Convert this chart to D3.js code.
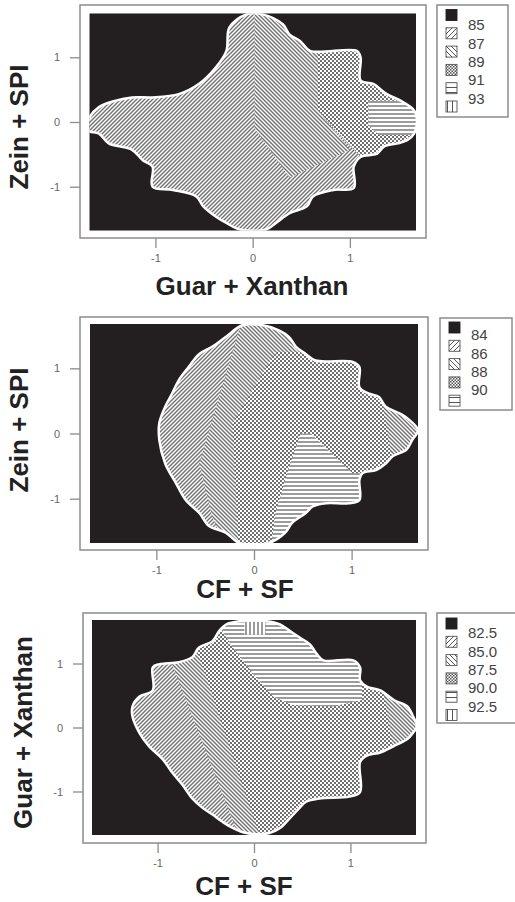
<!DOCTYPE html>
<html>
<head>
<meta charset="utf-8">
<script src="https://cdn.jsdelivr.net/npm/d3@7"></script>
<style>
  body { margin: 0; background: #fff; }
  svg { display: block; }
  text { font-family: Arial, "Liberation Sans", sans-serif; }
</style>
</head>
<body>
<svg id="chart" width="515" height="902"></svg>
<script>
// shared axis setup
const domain = [-1.68, 1.68];
const tickValues = [-1, 0, 1];

// panel 1 : Guar + Xanthan vs Zein + SPI
const p1Levels = ["85", "87", "89", "91", "93"];
const p1Outline = [[-0.24,1.46],[-0.07,1.66],[0.11,1.66],[0.31,1.51],[0.38,1.35],[0.49,1.25],[0.59,1.10],[1.07,1.10],[1.11,1.00],[1.11,0.64],[1.24,0.59],[1.38,0.43],[1.52,0.33],[1.66,0.18],[1.69,0.03],[1.66,-0.18],[1.59,-0.28],[1.49,-0.33],[1.35,-0.38],[1.28,-0.49],[1.11,-0.54],[1.04,-0.69],[1.04,-1.02],[0.83,-1.05],[0.62,-1.15],[0.56,-1.30],[0.38,-1.41],[0.24,-1.56],[0.14,-1.66],[-0.13,-1.66],[-0.27,-1.56],[-0.38,-1.46],[-0.51,-1.30],[-0.58,-1.15],[-0.82,-1.05],[-1.03,-1.00],[-1.03,-0.69],[-1.13,-0.59],[-1.24,-0.43],[-1.48,-0.33],[-1.58,-0.18],[-1.69,-0.13],[-1.69,0.03],[-1.58,0.23],[-1.41,0.33],[-1.24,0.38],[-1.03,0.38],[-0.76,0.43],[-0.55,0.59],[-0.38,0.84],[-0.27,1.10]];
const p1Zone89 = [[0.02,1.9],[0.67,1.9],[0.67,0.18],[1.00,-0.43],[0.38,-0.86],[0.02,-0.10]];
const p1Zone91 = [[0.67,1.8],[1.9,1.8],[1.9,-0.6],[1.13,-0.56],[0.95,-0.28],[0.67,0.18]];
const p1Zone93 = [[1.19,0.33],[1.9,0.33],[1.9,-0.2],[1.3,-0.2],[1.19,-0.05]];

// panel 2 : CF + SF vs Zein + SPI
const p2Levels = ["84", "86", "88", "90"];
const p2Outline = [[-0.12,1.66],[0.09,1.66],[0.26,1.58],[0.36,1.48],[0.43,1.33],[0.53,1.22],[0.63,1.12],[1.01,1.10],[1.08,1.02],[1.08,0.71],[1.18,0.61],[1.28,0.56],[1.35,0.41],[1.49,0.31],[1.59,0.21],[1.68,0.05],[1.62,-0.10],[1.56,-0.25],[1.42,-0.35],[1.35,-0.46],[1.25,-0.56],[1.11,-0.61],[1.08,-0.71],[1.08,-1.02],[0.97,-1.07],[0.74,-1.07],[0.60,-1.12],[0.53,-1.22],[0.39,-1.37],[0.32,-1.52],[0.15,-1.68],[-0.15,-1.68],[-0.29,-1.52],[-0.46,-1.42],[-0.56,-1.22],[-0.70,-1.02],[-0.80,-0.76],[-0.91,-0.46],[-0.97,-0.10],[-0.97,0.16],[-0.91,0.41],[-0.84,0.61],[-0.77,0.82],[-0.67,1.02],[-0.56,1.22],[-0.43,1.33],[-0.29,1.48]];
const p2Zone88 = [[-0.09,1.9],[1.9,1.9],[1.9,-2],[-0.22,-2],[-0.43,-1.27],[-0.56,-0.46]];
const p2Zone90 = [[0.22,1.25],[0.6,1.25],[0.7,1.6],[1.9,1.6],[1.9,0.62],[1.30,0.62],[1.42,-0.45],[1.9,-0.45],[1.9,-2],[-0.15,-2],[-0.19,-0.81],[-0.22,0.16]];
const p2Zone92 = [[0.48,0.00],[0.58,0.00],[1.01,-0.61],[1.9,-0.61],[1.9,-2],[0.15,-2],[0.22,-1.22],[0.36,-0.51]];

// panel 3 : CF + SF vs Guar + Xanthan
const p3Levels = ["82.5", "85.0", "87.5", "90.0", "92.5"];
const p3Outline = [[-0.29,1.61],[-0.15,1.66],[0.13,1.66],[0.27,1.61],[0.37,1.51],[0.47,1.41],[0.58,1.30],[0.65,1.15],[0.72,1.05],[1.03,1.05],[1.10,0.94],[1.10,0.74],[1.17,0.64],[1.31,0.58],[1.45,0.43],[1.59,0.33],[1.65,0.17],[1.69,0.02],[1.65,-0.08],[1.59,-0.18],[1.45,-0.29],[1.31,-0.39],[1.17,-0.44],[1.10,-0.54],[1.10,-1.01],[0.99,-1.08],[0.68,-1.11],[0.54,-1.16],[0.47,-1.26],[0.37,-1.42],[0.27,-1.57],[0.16,-1.65],[-0.08,-1.65],[-0.22,-1.57],[-0.33,-1.47],[-0.43,-1.36],[-0.53,-1.26],[-0.64,-1.11],[-0.74,-0.90],[-0.85,-0.70],[-0.95,-0.49],[-1.09,-0.29],[-1.19,-0.08],[-1.26,0.17],[-1.26,0.33],[-1.19,0.48],[-1.05,0.58],[-1.05,0.94],[-0.98,0.99],[-0.78,1.02],[-0.64,1.10],[-0.57,1.25],[-0.43,1.35],[-0.36,1.51]];
const p3Zone875 = [[-0.85,1.9],[1.9,1.9],[1.9,-2],[-0.08,-2],[-0.85,0.99]];
const p3Zone90 = [[-0.60,1.25],[-0.43,1.9],[1.9,1.9],[1.9,0.64],[1.34,0.58],[1.48,-0.70],[1.9,-0.70],[1.9,-2],[0.13,-2]];
const p3Zone925 = [[-0.29,1.9],[1.12,1.9],[1.12,0.43],[0.82,0.33],[0.40,0.35],[0.20,0.48],[-0.01,0.84],[-0.22,1.25],[-0.33,1.51]];
const p3Zone95 = [[-0.10,1.9],[0.12,1.9],[0.12,1.45],[-0.10,1.45]];

// fill keys, in legend order (lowest level first)
const fillKeys = ["solid", "up", "down", "cross", "horiz", "vert"];

const panels = [
  { levels: p1Levels, swatches: 6, outline: p1Outline,
    zones: [[p1Zone89, "down"], [p1Zone91, "cross"], [p1Zone93, "horiz"]],
    xTitle: "Guar + Xanthan", yTitle: "Zein + SPI",
    frame: { x: 80, y: 5, w: 346, h: 233 }, plot: { x0: 89.3, x1: 416, y0: 13.3, y1: 230.7 },
    xt: { x: 252, y: 295 }, yt: { x: 28, y: 127 },
    legend: { x: 437, y: 5, w: 71, h: 112, sw: 9.5, lab: 25 } },
  { levels: p2Levels, swatches: 5, outline: p2Outline,
    zones: [[p2Zone88, "down"], [p2Zone90, "cross"], [p2Zone92, "horiz"]],
    xTitle: "CF + SF", yTitle: "Zein + SPI",
    frame: { x: 80, y: 317, w: 348, h: 233 }, plot: { x0: 90, x1: 418, y0: 324, y1: 543 },
    xt: { x: 245, y: 598 }, yt: { x: 28, y: 430 },
    legend: { x: 440, y: 318, w: 72, h: 92, sw: 322, lab: 335 } },
  { levels: p3Levels, swatches: 6, outline: p3Outline,
    zones: [[p3Zone875, "down"], [p3Zone90, "cross"], [p3Zone925, "horiz"], [p3Zone95, "vert"]],
    xTitle: "CF + SF", yTitle: "Guar + Xanthan",
    frame: { x: 83, y: 613, w: 343, h: 230 }, plot: { x0: 92, x1: 416, y0: 620, y1: 835 },
    xt: { x: 244, y: 895 }, yt: { x: 31.5, y: 732.5 },
    legend: { x: 437, y: 613, w: 80, h: 110, sw: 618, lab: 633 } }
];

const svg = d3.select("#chart");
const defs = svg.append("defs");
const dark = "#231f20";
const hatch = "#707070";

function makePattern(id, kind, s, stroke, sw) {
  const p = defs.append("pattern").attr("id", id)
    .attr("patternUnits", "userSpaceOnUse").attr("width", s).attr("height", s);
  p.append("rect").attr("width", s).attr("height", s).attr("fill", "#fff");
  let d = null;
  if (kind === "up") d = `M${-s/2},${s/2}L${s/2},${-s/2}M0,${s}L${s},0M${s/2},${s*1.5}L${s*1.5},${s/2}`;
  if (kind === "down") d = `M${-s/2},${s/2}L${s/2},${s*1.5}M0,0L${s},${s}M${s/2},${-s/2}L${s*1.5},${s/2}`;
  if (kind === "horiz") d = `M0,${s/2}H${s}`;
  if (kind === "vert") d = `M${s/2},0V${s}`;
  if (d) p.append("path").attr("d", d).attr("stroke", stroke).attr("stroke-width", sw).attr("fill", "none");
  if (kind === "cross") {
    p.append("rect").attr("width", s/2).attr("height", s/2).attr("fill", stroke);
    p.append("rect").attr("x", s/2).attr("y", s/2).attr("width", s/2).attr("height", s/2).attr("fill", stroke);
  }
}

["up", "down", "cross", "horiz", "vert"].forEach(k => {
  makePattern("pat-" + k, k, 4, hatch, 1.4);
  makePattern("lg-" + k, k, k === "cross" ? 3 : 5, "#555", 1);
});
const fillOf = (k, lg) => k === "solid" ? dark : `url(#${lg ? "lg" : "pat"}-${k})`;

panels.forEach((pn, i) => {
  const g = svg.append("g");
  const x = d3.scaleLinear().domain(domain).range([pn.plot.x0, pn.plot.x1]);
  const y = d3.scaleLinear().domain(domain).range([pn.plot.y1, pn.plot.y0]);

  // frame
  g.append("rect")
    .attr("x", pn.frame.x).attr("y", pn.frame.y)
    .attr("width", pn.frame.w).attr("height", pn.frame.h)
    .attr("fill", "#fff").attr("stroke", "#8c8c8c").attr("stroke-width", 1.5);

  defs.append("clipPath").attr("id", "plot" + i).append("rect")
    .attr("x", pn.plot.x0).attr("y", pn.plot.y0)
    .attr("width", pn.plot.x1 - pn.plot.x0).attr("height", pn.plot.y1 - pn.plot.y0);

  const blob = d3.line().x(d => x(d[0])).y(d => y(d[1])).curve(d3.curveCatmullRomClosed.alpha(0.5));
  const poly = d3.line().x(d => x(d[0])).y(d => y(d[1])).curve(d3.curveLinearClosed);

  defs.append("clipPath").attr("id", "blob" + i).append("path").attr("d", blob(pn.outline));

  const area = g.append("g").attr("clip-path", `url(#plot${i})`);
  area.append("rect")
    .attr("x", pn.plot.x0).attr("y", pn.plot.y0)
    .attr("width", pn.plot.x1 - pn.plot.x0).attr("height", pn.plot.y1 - pn.plot.y0)
    .attr("fill", dark);
  area.append("path").attr("d", blob(pn.outline)).attr("fill", fillOf("up"));

  const inner = area.append("g").attr("clip-path", `url(#blob${i})`);
  inner.selectAll("path").data(pn.zones).join("path")
    .attr("d", d => poly(d[0]))
    .attr("fill", d => fillOf(d[1]));

  area.append("path").attr("d", blob(pn.outline))
    .attr("fill", "none").attr("stroke", "#fff").attr("stroke-width", 2.5);

  // axes
  const ax = g.append("g").attr("transform", `translate(0,${pn.frame.y + pn.frame.h})`)
    .call(d3.axisBottom(x).tickValues(tickValues).tickSize(10).tickPadding(6).tickFormat(d => String(d)));
  const ay = g.append("g").attr("transform", `translate(${pn.frame.x},0)`)
    .call(d3.axisLeft(y).tickValues(tickValues).tickSize(10).tickPadding(10).tickFormat(d => String(d)));
  [ax, ay].forEach(a => {
    a.select(".domain").remove();
    a.selectAll(".tick line").attr("stroke", "#8c8c8c").attr("stroke-width", 1.3);
    a.selectAll(".tick text").attr("fill", "#666").attr("font-size", 11);
  });

  // titles
  g.append("text").attr("x", pn.xt.x).attr("y", pn.xt.y)
    .attr("text-anchor", "middle").attr("font-size", 26).attr("font-weight", "bold")
    .attr("fill", "#222").text(pn.xTitle);
  g.append("text").attr("transform", `translate(${pn.yt.x},${pn.yt.y}) rotate(-90)`)
    .attr("text-anchor", "middle").attr("font-size", 26).attr("font-weight", "bold")
    .attr("fill", "#222").text(pn.yTitle);

  // legend
  const lg = pn.legend;
  const step = 18.3;
  g.append("rect").attr("x", lg.x).attr("y", lg.y).attr("width", lg.w).attr("height", lg.h)
    .attr("fill", "#fff").attr("stroke", "#8c8c8c").attr("stroke-width", 1.5);
  g.selectAll(".sw").data(fillKeys.slice(0, pn.swatches)).join("rect")
    .attr("x", lg.x + 9).attr("y", (d, j) => lg.sw + j * step)
    .attr("width", 11).attr("height", 11)
    .attr("fill", d => fillOf(d, true))
    .attr("stroke", d => d === "solid" ? dark : "#555").attr("stroke-width", 0.9);
  g.selectAll(".lab").data(pn.levels).join("text")
    .attr("x", lg.x + 31).attr("y", (d, j) => lg.lab + j * step)
    .attr("dy", "0.36em").attr("font-size", 15).attr("fill", "#444")
    .text(d => d);
});
</script>
</body>
</html>
